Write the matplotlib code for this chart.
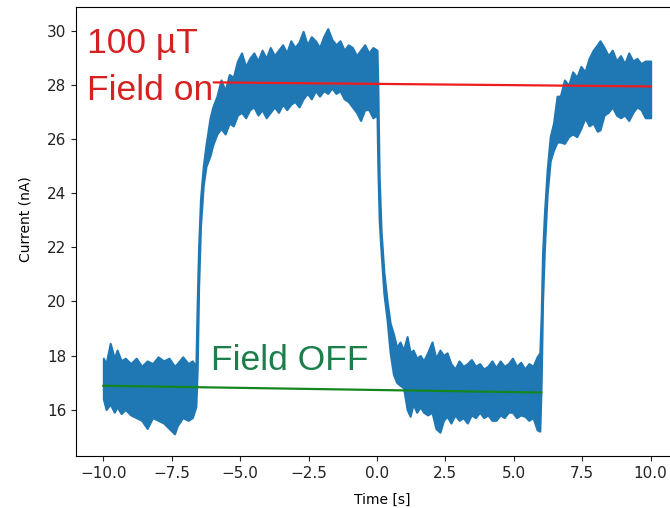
import numpy as np
import matplotlib
matplotlib.use('Agg')
import matplotlib.pyplot as plt

# noise band of the current trace (time in s, current in nA)
# field off, before the first step
t_off1 = [-10.0, -9.9, -9.75, -9.6, -9.5, -9.35, -9.2, -9.0, -8.8, -8.6, -8.4, -8.2,
          -8.0, -7.8, -7.6, -7.4, -7.3, -7.1, -6.9, -6.75, -6.62]
hi_off1 = [17.9, 17.7, 18.45, 17.9, 18.2, 17.8, 17.9, 17.7, 17.9, 17.6, 17.8, 17.7,
           17.95, 17.8, 17.9, 17.6, 17.7, 17.95, 17.7, 17.8, 17.6]
lo_off1 = [16.4, 16.0, 16.2, 15.9, 16.1, 15.85, 16.0, 15.8, 15.7, 15.6, 15.3, 15.7,
           15.6, 15.5, 15.3, 15.1, 15.4, 15.7, 15.6, 15.7, 16.1]

# field switched on
t_on1 = [-6.57, -6.52, -6.45, -6.35, -6.25, -6.1,
         -6.0, -5.85, -5.7, -5.55, -5.4, -5.25, -5.1, -4.95, -4.8, -4.65, -4.5, -4.35,
         -4.2, -4.05, -3.9, -3.75, -3.6, -3.45, -3.3, -3.15, -3.0, -2.85, -2.7, -2.55,
         -2.4, -2.25, -2.1, -1.95, -1.8, -1.65, -1.5, -1.35, -1.2, -1.05, -0.9, -0.75,
         -0.6, -0.45, -0.3, -0.15, 0.0]
hi_on1 = [20.0, 22.0, 23.8, 25.0, 25.8, 26.8,
          27.2, 27.6, 28.2, 27.8, 28.4, 28.3, 28.9, 29.2, 28.7, 29.0, 29.2, 28.9,
          29.3, 29.0, 29.4, 29.1, 29.3, 29.5, 29.2, 29.65, 29.4, 29.6, 30.0, 29.5,
          29.8, 29.65, 29.4, 29.8, 30.1, 29.7, 29.5, 29.65, 29.3, 29.5, 29.4, 29.1,
          29.3, 29.5, 29.2, 29.4, 29.3]
lo_on1 = [17.5, 20.5, 22.8, 24.3, 25.0, 25.4,
          25.8, 26.2, 26.4, 26.2, 26.6, 26.5, 26.9, 27.0, 26.8, 27.1, 27.2, 26.9,
          27.1, 26.8, 27.0, 27.2, 27.0, 27.3, 27.1, 27.3, 27.4, 27.2, 27.5, 27.7,
          27.5, 27.8, 27.6, 27.8, 27.7, 27.9, 27.7, 27.8, 27.5, 27.4, 27.2, 27.0,
          26.7, 27.1, 27.1, 26.8, 26.9]

# field switched off again
t_off2 = [0.03, 0.08, 0.15, 0.25, 0.37, 0.48,
          0.6, 0.72, 0.84, 0.97, 1.1, 1.21, 1.32, 1.45, 1.58, 1.7, 1.85, 2.01, 2.15,
          2.3, 2.43, 2.56, 2.7, 2.85, 3.0, 3.15, 3.3, 3.45, 3.6, 3.75, 3.9, 4.05, 4.2,
          4.35, 4.5, 4.65, 4.8, 4.95, 5.1, 5.25, 5.4, 5.55, 5.7, 5.85, 5.95]
hi_off2 = [28.0, 24.6, 22.6, 21.1, 20.0, 19.2,
           18.8, 18.3, 18.5, 18.2, 18.7, 18.1, 18.2, 17.9, 18.0, 17.8, 18.1, 18.5, 17.9,
           18.2, 18.0, 18.1, 17.7, 17.5, 17.8, 17.6, 17.7, 17.85, 17.6, 17.7, 17.5, 17.6, 17.8,
           17.55, 17.8, 17.6, 17.7, 17.9, 17.6, 17.75, 17.5, 17.7, 17.6, 17.95, 18.1]
lo_off2 = [25.0, 23.0, 21.8, 20.3, 19.3, 18.1,
           17.3, 17.0, 16.9, 16.8, 16.0, 15.75, 16.2, 15.9, 16.1, 15.9, 15.8, 15.9, 15.3,
           15.16, 15.6, 15.75, 15.5, 15.8, 15.6, 15.7, 15.5, 15.8, 15.7, 15.9, 15.7, 15.8, 15.6,
           15.6, 15.8, 15.7, 15.9, 15.9, 15.7, 15.8, 15.75, 15.6, 15.7, 15.25, 15.2]

# field switched on again
t_on2 = [6.0, 6.05, 6.12, 6.22, 6.33, 6.45, 6.58,
         6.7, 6.85, 7.0, 7.15, 7.3, 7.45, 7.6, 7.75, 7.9, 8.05, 8.15, 8.3, 8.45, 8.6,
         8.75, 8.9, 9.05, 9.2, 9.35, 9.5, 9.65, 9.8, 10.0]
hi_on2 = [19.5, 21.8, 23.3, 24.9, 26.1, 26.6, 27.6,
          27.6, 28.2, 28.0, 28.5, 28.3, 28.7, 28.5, 29.0, 29.3, 29.5, 29.65, 29.4, 29.1, 29.3,
          28.9, 29.1, 28.8, 29.2, 28.9, 29.0, 28.8, 28.9, 28.9]
lo_on2 = [17.0, 20.0, 22.0, 24.0, 25.2, 25.6, 25.9,
          25.9, 25.85, 26.1, 26.2, 26.1, 26.4, 26.8, 26.5, 26.6, 26.3, 26.35, 26.9, 27.0, 27.2,
          26.9, 26.8, 26.9, 26.7, 27.0, 27.2, 27.1, 26.8, 26.8]

# straight guide lines drawn over the trace
on_line_t = [-5.96, 10.0]
on_line_i = [28.11, 27.96]
off_line_t = [-10.0, 6.0]
off_line_i = [16.88, 16.63]

time = np.concatenate([t_off1, t_on1, t_off2, t_on2])
upper = np.concatenate([hi_off1, hi_on1, hi_off2, hi_on2])
lower = np.concatenate([lo_off1, lo_on1, lo_off2, lo_on2])

fig = plt.figure(figsize=(6.7, 5.08), dpi=100)
ax = fig.add_axes([76 / 670, 52 / 508, 602 / 670, 449 / 508])

ax.fill_between(time, lower, upper, color='#1f77b4', edgecolor='#1f77b4', linewidth=1.5)
ax.plot(on_line_t, on_line_i, color='#ee1c1c', linewidth=1.6)
ax.plot(off_line_t, off_line_i, color='#14861e', linewidth=1.6)

ax.set_xlim(-11, 11)
ax.set_ylim(14.28, 30.9)
ax.set_xticks([-10.0, -7.5, -5.0, -2.5, 0.0, 2.5, 5.0, 7.5, 10.0])
ax.set_yticks([16, 18, 20, 22, 24, 26, 28, 30])
ax.tick_params(labelsize=11, colors='#222222')

ax.set_xlabel('Time [s]', fontsize=10)
ax.set_ylabel('Current (nA)', fontsize=10)
ax.xaxis.set_label_coords(0.508, -0.083)
ax.yaxis.set_label_coords(-0.072, 0.528)

txt = dict(family=['Liberation Sans', 'DejaVu Sans'], fontsize=25.5, va='baseline', ha='left')
ax.text(-10.6, 29.2, '100 µT', color='#d42222', **txt)
ax.text(-10.6, 27.44, 'Field on', color='#d42222', **txt)
ax.text(-6.07, 17.48, 'Field OFF', color='#1b7f4c', **txt)

fig.savefig('out.png', dpi=100)
